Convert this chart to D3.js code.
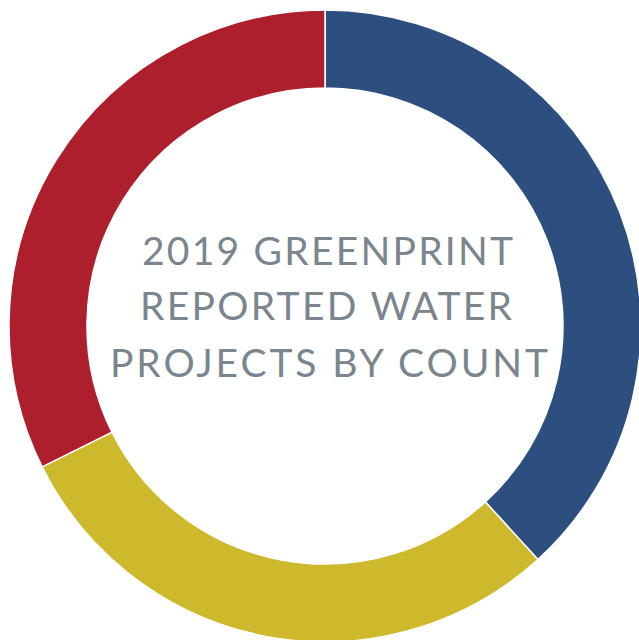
<!DOCTYPE html>
<html><head><meta charset="utf-8">
<script src="https://cdn.jsdelivr.net/npm/d3@7"></script>
<style>html,body{margin:0;padding:0;background:#fff;overflow:hidden}</style>
</head><body>
<svg id="chart" width="639" height="640"></svg>
<script>
const categories = ["Segment 1", "Segment 2", "Segment 3"];
const counts = [13, 10, 11];
const colors = ["#2c4f7f", "#cdb92b", "#ad1f2d"];
const titleLines = ["2019 GREENPRINT", "REPORTED WATER", "PROJECTS BY COUNT"];

const svg = d3.select("#chart");
const cx = 325, cy = 326, outerR = 316, innerR = 238;
const g = svg.append("g").attr("transform", `translate(${cx},${cy})`);

const data = categories.map((c, i) => ({ category: c, value: counts[i], color: colors[i] }));
const pie = d3.pie().value(d => d.value).sort(null);
const arc = d3.arc().innerRadius(innerR).outerRadius(outerR);

g.selectAll("path").data(pie(data)).join("path")
  .attr("d", arc)
  .attr("fill", d => d.data.color)
  .attr("stroke", "#fff")
  .attr("stroke-width", 1.5);

const lineSpecs = [
  { y: 265 - cy, x0: 142, len: 371 },
  { y: 320 - cy, x0: 140, len: 372 },
  { y: 377 - cy, x0: 110, len: 438 }
];
g.selectAll("text.title").data(titleLines).join("text")
  .attr("class", "title")
  .attr("x", (d, i) => lineSpecs[i].x0 - cx)
  .attr("y", (d, i) => lineSpecs[i].y)
  .attr("textLength", (d, i) => lineSpecs[i].len)
  .attr("lengthAdjust", "spacing")
  .attr("font-family", "Lato, 'Open Sans', sans-serif")
  .attr("font-weight", 400)
  .attr("font-size", 39)
  .attr("fill", "#7b858d")
  .text(d => d);
</script>
</body></html>
